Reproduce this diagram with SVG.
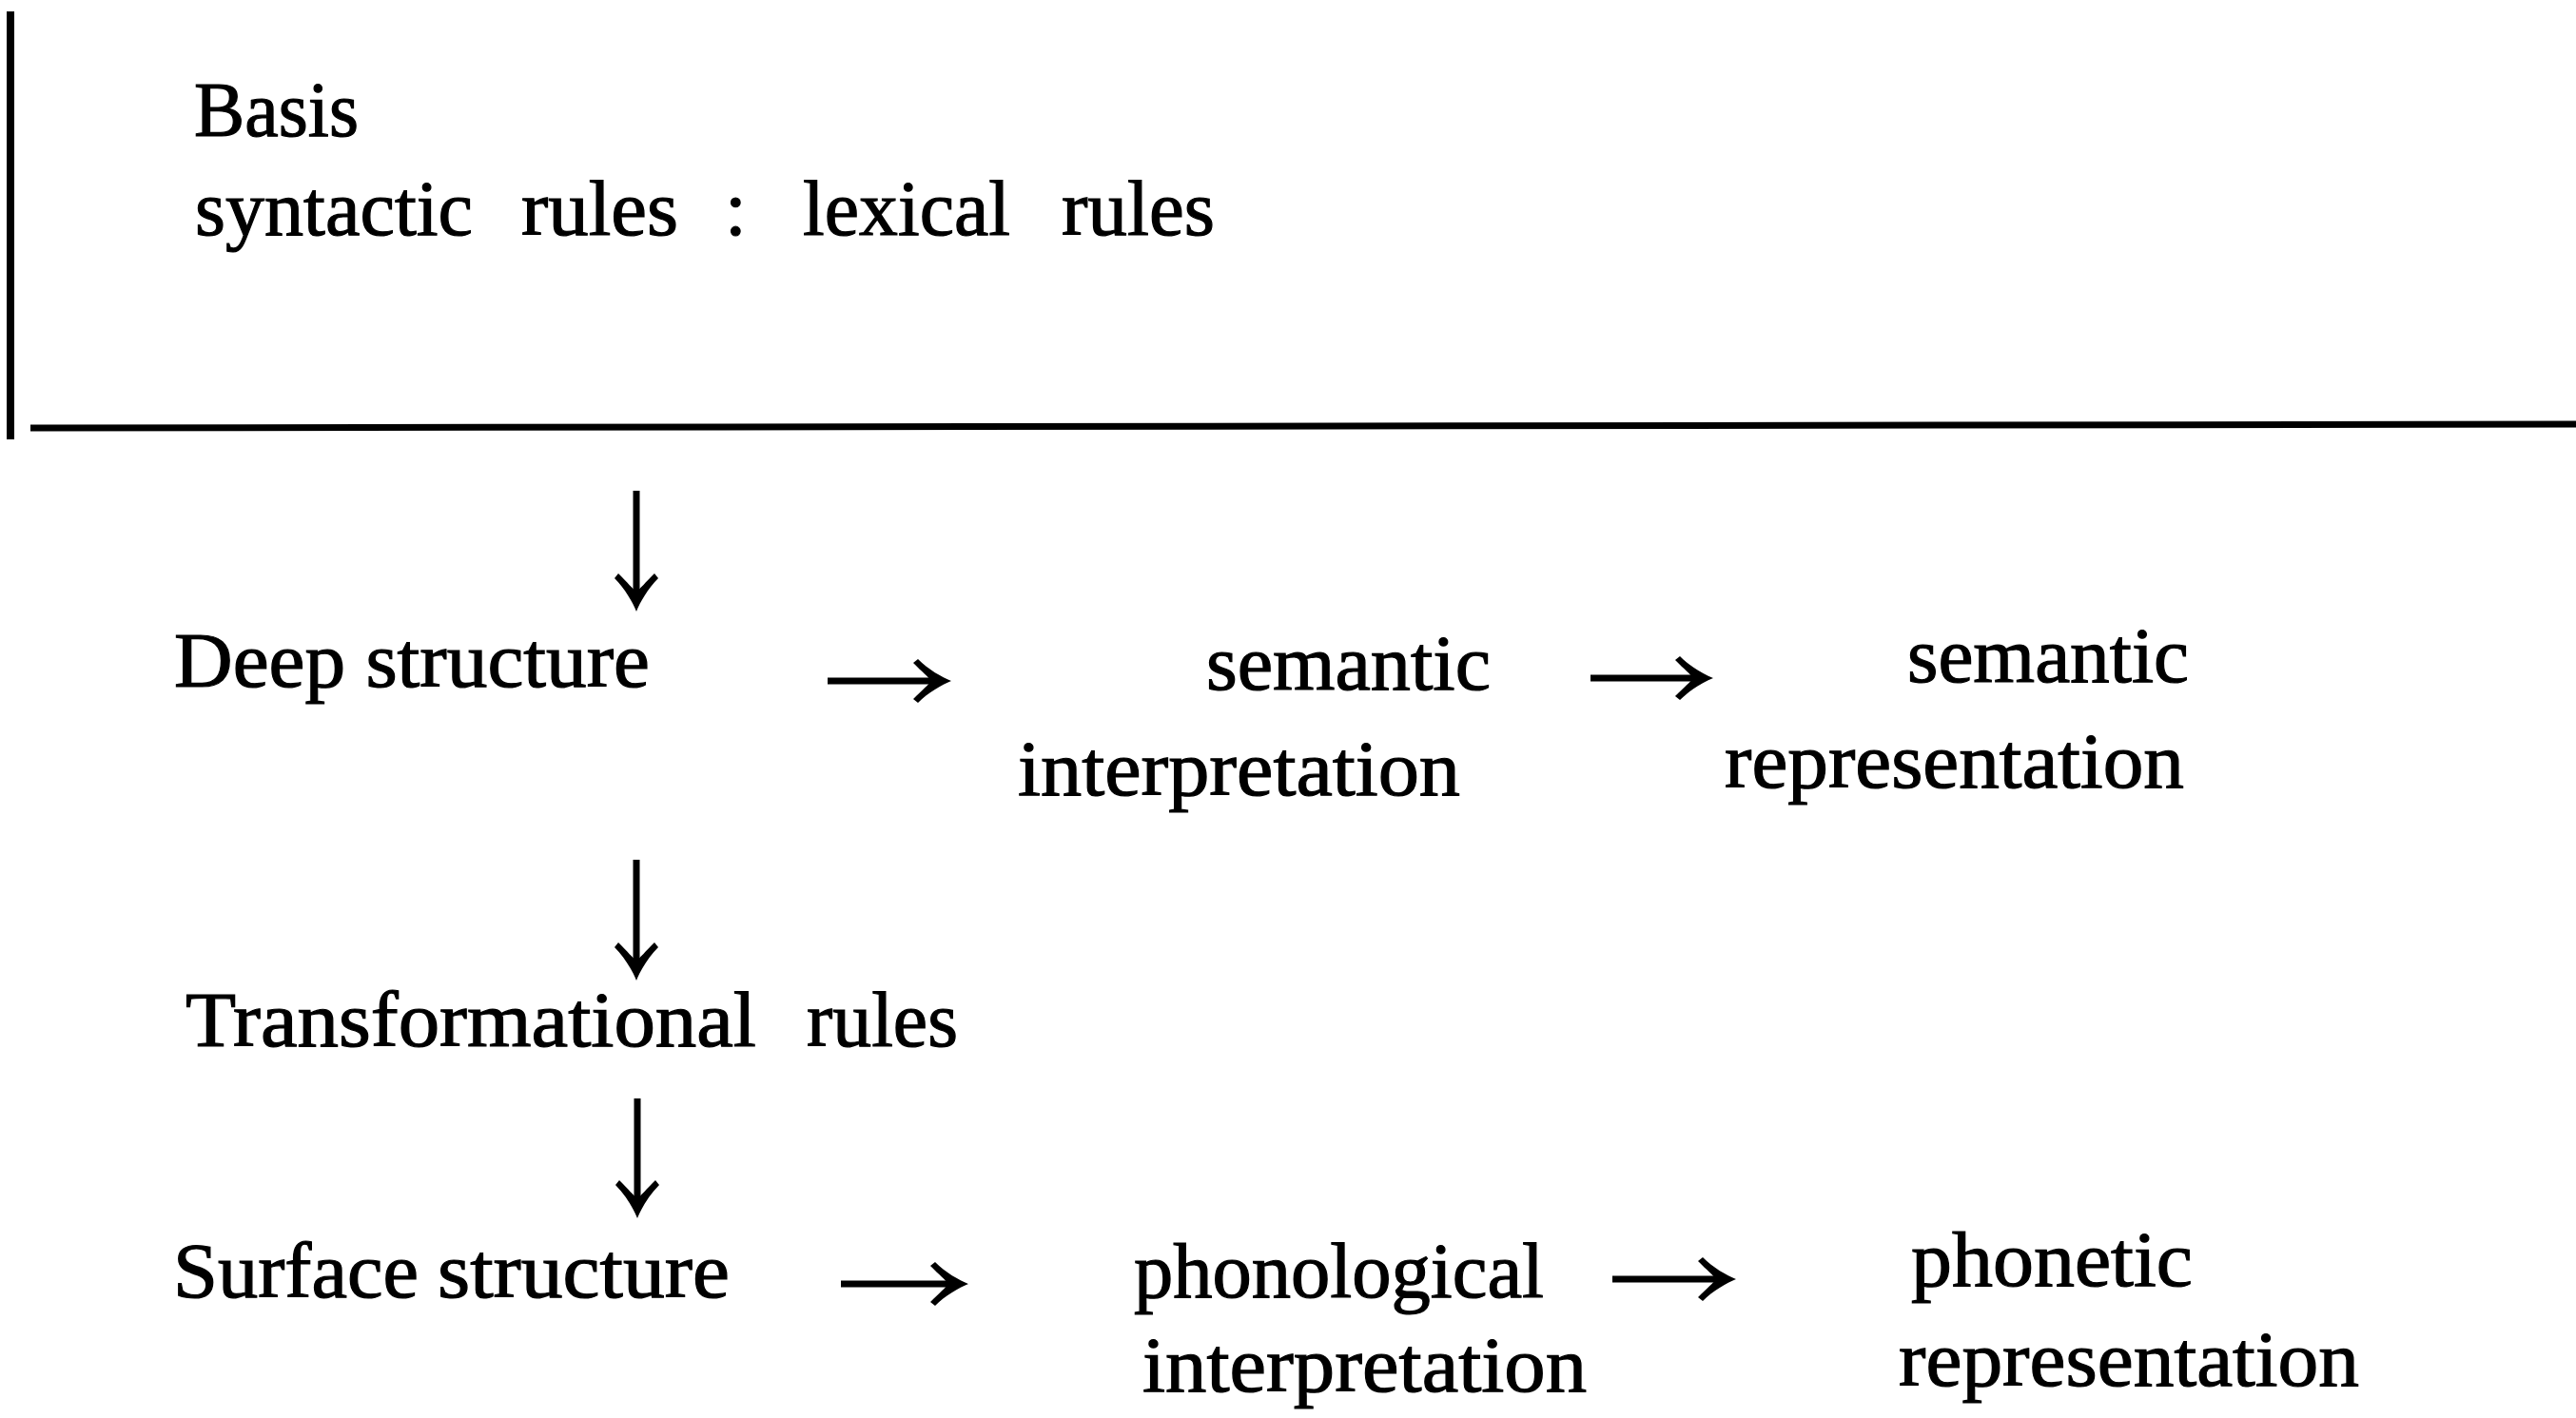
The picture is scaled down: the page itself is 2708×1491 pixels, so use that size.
<svg xmlns="http://www.w3.org/2000/svg" width="2708" height="1491" viewBox="0 0 2708 1491">
<style>
text{font-family:"Liberation Serif","Times New Roman",serif;font-size:82px;fill:#000;stroke:#000;stroke-width:1.2}
.rule{stroke:#000;fill:none}
.shaft{stroke:#000;stroke-width:7;fill:none}
</style>
<defs>
<path id="head" d="M0,0 C-10,-4 -24,-12 -35,-23 L-40,-19 C-30,-9 -24,-4 -21,0 C-24,4 -30,9 -40,19 L-35,23 C-24,12 -10,4 0,0 Z" fill="#000"/>
</defs>
<rect width="2708" height="1491" fill="#fff"/>
<g id="frame">
<line class="rule" x1="11" y1="12" x2="11" y2="462" stroke-width="8"/>
<line class="rule" x1="32" y1="450" x2="2708" y2="446" stroke-width="7"/>
</g>
<g id="basis">
<text x="204" y="143" textLength="173" lengthAdjust="spacingAndGlyphs">Basis</text>
<text y="247"><tspan x="205" textLength="292" lengthAdjust="spacingAndGlyphs">syntactic</tspan><tspan x="548" textLength="165" lengthAdjust="spacingAndGlyphs">rules</tspan><tspan x="762">:</tspan><tspan x="844" textLength="218" lengthAdjust="spacingAndGlyphs">lexical</tspan><tspan x="1116" textLength="161" lengthAdjust="spacingAndGlyphs">rules</tspan></text>
</g>
<g id="deep-structure">
<text x="183" y="722" textLength="500" lengthAdjust="spacingAndGlyphs">Deep structure</text>
</g>
<g id="semantic-interpretation">
<text x="1268" y="725" textLength="299" lengthAdjust="spacingAndGlyphs">semantic</text>
<text x="1070" y="836" textLength="465" lengthAdjust="spacingAndGlyphs">interpretation</text>
</g>
<g id="semantic-representation">
<text x="2005" y="717" textLength="296" lengthAdjust="spacingAndGlyphs">semantic</text>
<text x="1813" y="828" textLength="483" lengthAdjust="spacingAndGlyphs">representation</text>
</g>
<g id="transformational-rules">
<text y="1100"><tspan x="195" textLength="600" lengthAdjust="spacingAndGlyphs">Transformational</tspan><tspan x="848" textLength="159" lengthAdjust="spacingAndGlyphs">rules</tspan></text>
</g>
<g id="surface-structure">
<text y="1364"><tspan x="182" textLength="258" lengthAdjust="spacingAndGlyphs">Surface</tspan><tspan x="460" textLength="307" lengthAdjust="spacingAndGlyphs">structure</tspan></text>
</g>
<g id="phonological-interpretation">
<text x="1192" y="1364" textLength="431" lengthAdjust="spacingAndGlyphs">phonological</text>
<text x="1201" y="1463" textLength="467" lengthAdjust="spacingAndGlyphs">interpretation</text>
</g>
<g id="phonetic-representation">
<text x="2009" y="1352" textLength="296" lengthAdjust="spacingAndGlyphs">phonetic</text>
<text x="1996" y="1457" textLength="484" lengthAdjust="spacingAndGlyphs">representation</text>
</g>
<g id="connectors">
<line class="shaft" x1="669" y1="516" x2="669" y2="630"/>
<use href="#head" transform="translate(669,643) rotate(90)"/>
<line class="shaft" x1="669" y1="904" x2="669" y2="1018"/>
<use href="#head" transform="translate(669,1031) rotate(90)"/>
<line class="shaft" x1="670" y1="1155" x2="670" y2="1268"/>
<use href="#head" transform="translate(670,1281) rotate(90)"/>
<line class="shaft" x1="870" y1="716" x2="988" y2="716"/>
<use href="#head" transform="translate(1000,716)"/>
<line class="shaft" x1="1672" y1="713" x2="1789" y2="713"/>
<use href="#head" transform="translate(1801,713)"/>
<line class="shaft" x1="884" y1="1350" x2="1006" y2="1350"/>
<use href="#head" transform="translate(1018,1350)"/>
<line class="shaft" x1="1695" y1="1345" x2="1813" y2="1345"/>
<use href="#head" transform="translate(1825,1345)"/>
</g>
</svg>
